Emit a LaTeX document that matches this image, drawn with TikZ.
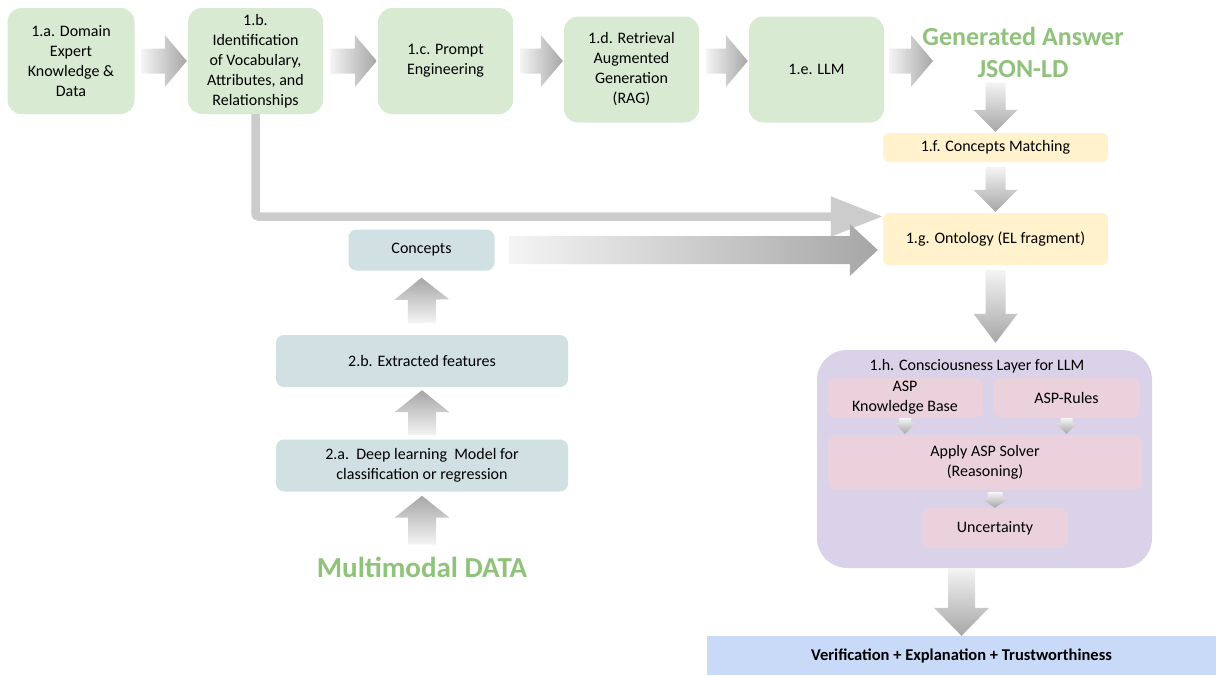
\documentclass[tikz,border=0pt]{standalone}
\usepackage{fontspec}
\setmainfont{Carlito}
\usetikzlibrary{positioning, calc, arrows.meta}

\definecolor{boxgreen}{RGB}{217,234,211}
\definecolor{boxyellow}{RGB}{255,242,204}
\definecolor{boxteal}{RGB}{208,224,227}
\definecolor{boxlilac}{RGB}{217,210,233}
\definecolor{boxpink}{RGB}{234,209,220}
\definecolor{boxblue}{RGB}{201,218,248}
\definecolor{titlegreen}{RGB}{143,194,122}
\definecolor{arrlight}{RGB}{244,244,244}
\definecolor{arrdark}{RGB}{166,166,166}
\definecolor{linkgray}{RGB}{204,204,204}

\tikzset{
  every node/.style={font=\fontsize{16}{20}\selectfont, align=center, inner sep=0pt},
  topbox/.style={fill=boxgreen, rounded corners=14pt, minimum width=135pt, minimum height=106pt},
  ybox/.style={fill=boxyellow, rounded corners=6pt, minimum width=225pt, minimum height=29pt},
  tbox/.style={fill=boxteal, rounded corners=8pt, minimum width=292pt, minimum height=52pt},
  pbox/.style={fill=boxpink, rounded corners=8pt, minimum height=40pt},
  layer/.style={fill=boxlilac, rounded corners=30pt, minimum width=335pt, minimum height=218pt},
  resbar/.style={fill=boxblue, minimum width=509pt, minimum height=39pt},
  bigtitle/.style={text=titlegreen, font=\bfseries\fontsize{26}{32}\selectfont},
  harr/.style={left color=arrlight, right color=arrdark},
  varr/.style={top color=arrlight, bottom color=arrdark},
  uarr/.style={top color=arrdark, bottom color=arrlight},
}

% block arrow: shading, start, end, shaft half width, head half width, head length
\newcommand{\blockarrow}[6]{%
  \coordinate (ba-s) at #2;
  \coordinate (ba-e) at #3;
  \coordinate (ba-h) at ($(ba-e)!#6!(ba-s)$);
  \shade[#1] ($(ba-s)!#4!90:(ba-e)$) -- ($(ba-h)!#4!90:(ba-e)$) -- ($(ba-h)!#5!90:(ba-e)$)
    -- (ba-e) -- ($(ba-h)!#5!-90:(ba-e)$) -- ($(ba-h)!#4!-90:(ba-e)$) -- ($(ba-s)!#4!-90:(ba-e)$) -- cycle;
}

\begin{document}
\begin{tikzpicture}[x=1pt, y=-1pt]
  \fill[white] (0,0) rectangle (1216,675);
  \useasboundingbox (0,0) rectangle (1216,675);

  % Pipeline 1
  \node[topbox, minimum width=127pt] (n1a) at (71,61) {1.a. Domain\\Expert\\Knowledge \&\\Data};
  \node[topbox] (n1b) at (255.5,61) {1.b.\\Identification\\of Vocabulary,\\Attributes, and\\Relationships};
  \node[topbox] (n1c) at (445.5,61) {1.c. Prompt\\Engineering};
  \node[topbox] (n1d) at (631.5,69.5) {1.d. Retrieval\\Augmented\\Generation\\(RAG)};
  \node[topbox] (n1e) at (816.5,69.5) {1.e. LLM};
  \node[bigtitle] (ans) at (1023,52) {Generated Answer\\JSON-LD};
  \coordinate (ansin) at (933,61);

  \node[ybox] (n1f) at (995.5,147.5) {1.f. Concepts Matching};
  \node[ybox, minimum height=52pt] (n1g) at (995.5,239) {1.g. Ontology (EL fragment)};

  \node[layer] (n1h) at (984.5,459) {};
  \node (htitle) at (977,366) {1.h. Consciousness Layer for LLM};
  \node[pbox, minimum width=156pt] (kb) at (905,398) {ASP\\Knowledge Base};
  \node[pbox, minimum width=147pt] (rules) at (1066.5,398) {ASP-Rules};
  \node[pbox, minimum width=314pt, minimum height=55pt] (solver) at (985,462.5) {Apply ASP Solver\\(Reasoning)};
  \node[pbox, minimum width=146pt] (unc) at (995,528) {Uncertainty};

  \node[resbar, font=\bfseries\fontsize{16.5}{20}\selectfont] (result) at (961.5,655.5) {Verification + Explanation + Trustworthiness};

  % Pipeline 2
  \node[tbox, minimum width=146pt, minimum height=41pt] (concepts) at (421.5,250) {Concepts};
  \node[tbox] (feat) at (422,361) {2.b. Extracted features};
  \node[tbox] (dlm) at (422,465.5) {2.a.\ \ Deep learning\ \ Model for\\classification or regression};
  \node[bigtitle, font=\bfseries\fontsize{29}{34}\selectfont] (mmdata) at (422,567) {Multimodal DATA};

  % Arrows
  \foreach \s/\t in {n1a/n1b, n1b/n1c, n1c/n1d, n1d/n1e}
    \blockarrow{harr}{([xshift=7pt]\s.east |- n1c.east)}{([xshift=-1pt]\t.west |- n1c.east)}{12.5pt}{26pt}{22pt};
  \blockarrow{harr}{([xshift=5pt]n1e.east |- n1c.east)}{(ansin)}{12.5pt}{26pt}{22pt};

  \blockarrow{varr}{([yshift=-5pt]ans.south -| n1f.north)}{([yshift=1pt]n1f.north)}{10pt}{22pt}{22pt};
  \blockarrow{varr}{([yshift=-5pt]n1f.south)}{([yshift=1pt]n1g.north)}{10pt}{22pt}{22pt};
  \blockarrow{varr}{([yshift=-5pt]n1g.south)}{([yshift=7pt]n1h.north -| n1g.south)}{10pt}{22pt}{29pt};
  \blockarrow{varr}{(kb.south)}{([yshift=1pt]solver.north -| kb.south)}{6pt}{11pt}{11pt};
  \blockarrow{varr}{(rules.south)}{([yshift=1pt]solver.north -| rules.south)}{6pt}{11pt}{11pt};
  \blockarrow{varr}{([yshift=-2pt]solver.south -| unc.north)}{(unc.north)}{7.5pt}{12pt}{8pt};
  \blockarrow{varr}{(n1h.south -| result.north)}{(result.north)}{13.5pt}{27.5pt}{28pt};

  \blockarrow{uarr}{([yshift=12pt]mmdata.north)}{([yshift=-4pt]dlm.south)}{14pt}{27.5pt}{22pt};
  \blockarrow{uarr}{([yshift=4pt]dlm.north)}{([yshift=-3pt]feat.south)}{14pt}{27.5pt}{22pt};
  \blockarrow{uarr}{([yshift=12pt]feat.north)}{([yshift=-7pt]concepts.south)}{14pt}{27.5pt}{22pt};

  \draw[linkgray, line width=8.5pt, rounded corners=3pt, -{Triangle[length=52pt, width=38pt]}]
    (n1b.south) |- ([yshift=22.5pt]n1g.west);
  \blockarrow{harr}{([xshift=15pt]concepts.east)}{([xshift=-5pt]n1g.west |- concepts.east)}{14pt}{26pt}{28pt};
\end{tikzpicture}
\end{document}
